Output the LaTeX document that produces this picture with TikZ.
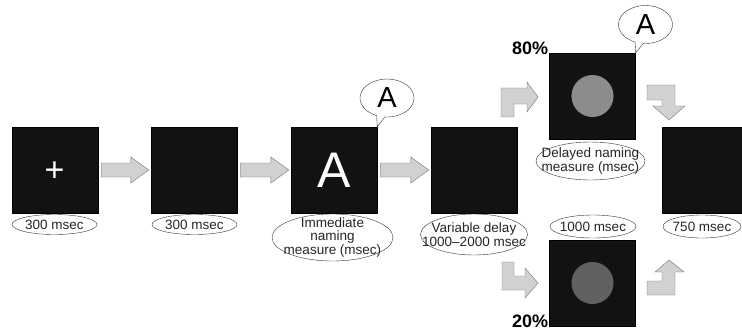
\documentclass[tikz,border=0pt]{standalone}
\usepackage{fontspec}
\setmainfont{Liberation Sans}
\usetikzlibrary{calc}
\usetikzlibrary{shapes.geometric}
\usetikzlibrary{shapes.callouts}
\tikzset{
	screenstyle/.style={rectangle,draw=black,fill=black!93,minimum size=86,inner sep=0},
	labelstyle/.style={ellipse,draw=black!80,fill=white,inner sep=-20pt,align=center,text=black!85,font=\fontsize{13.5}{14}\selectfont},
	arrowstyle/.style={draw=black!55,fill=black!18,line join=miter},
	bubblestyle/.style={ellipse callout,draw=black!80,fill=white,minimum width=54,minimum height=38,inner sep=0,callout pointer arc=18,font=\fontsize{29}{29}\selectfont},
	dotstyle/.style={circle,minimum size=42,inner sep=0},
	percentstyle/.style={font=\fontsize{18}{18}\selectfont\bfseries,inner sep=1pt}
}
\newcommand{\rightblock}[2]{%
	\draw[arrowstyle] let \p1=($(#1.east)+(3pt,0)$), \p2=($(#2.west)+(-2pt,0)$) in
		(\x1,\y1+7pt) -- (\x2-18pt,\y1+7pt) -- (\x2-18pt,\y1+13pt) -- (\x2,\y1)
		-- (\x2-18pt,\y1-13pt) -- (\x2-18pt,\y1-7pt) -- (\x1,\y1-7pt) -- cycle;}

\begin{document}
\begin{tikzpicture}[x=1pt,y=-1pt]
	\useasboundingbox (0,0) rectangle (742,333);
	% screens
	\node[screenstyle] (s1) at (55,170) {};
	\node[text=white,font=\fontsize{34}{34}\selectfont,inner sep=0] (fix) at (54.5,172) {+};
	\node[screenstyle] (s2) at (194,170) {};
	\node[screenstyle,text=white,font=\fontsize{50}{50}\selectfont] (s3) at (334,170) {A};
	\node[screenstyle] (s4) at (474,170) {};
	\node[screenstyle] (s5) at (592.5,96) {};
	\node[screenstyle] (s6) at (592.5,283) {};
	\node[screenstyle,minimum width=80] (s7) at (702,170) {};
	\node[dotstyle,fill=black!45] (d5) at (s5) {};
	\node[dotstyle,fill=black!62] (d6) at (s6) {};
	% durations
	\node[labelstyle,minimum width=85,minimum height=20] (l1) at (54.5,224.5) {300 msec};
	\node[labelstyle,minimum width=85,minimum height=20] (l2) at (194.5,224.5) {300 msec};
	\node[labelstyle,minimum width=121,minimum height=47] (l3) at (332.5,237.5) {Immediate\\naming\\measure (msec)};
	\node[labelstyle,minimum width=107,minimum height=41] (l4) at (474,234.5) {Variable delay\\1000--2000 msec};
	\node[labelstyle,minimum width=109,minimum height=38] (l5) at (590.5,161) {Delayed naming\\measure (msec)};
	\node[labelstyle,minimum width=86,minimum height=23] (l6) at (593,226.5) {1000 msec};
	\node[labelstyle,minimum width=78,minimum height=23] (l7) at (702,226.5) {750 msec};
	% answers
	\node[bubblestyle,callout absolute pointer={(s3.north east)}] (b3) at (387,98) {A};
	\node[bubblestyle,callout absolute pointer={(s5.north east)}] (b5) at (645.5,24.5) {A};
	\node[percentstyle,anchor=base east,yshift=-2] (p80) at (s5.north west) {80\%};
	\node[percentstyle,anchor=base east,yshift=-1] (p20) at (s6.south west) {20\%};
	% arrows
	\rightblock{s1}{s2}
	\rightblock{s2}{s3}
	\rightblock{s3}{s4}
	\draw[arrowstyle] (501,117) -- (501,88) -- (527,88) -- (527,82) -- (538,97) -- (527,112) -- (527,104) -- (514,104) -- (514,117) -- cycle;
	\draw[arrowstyle] (502,262) -- (514,262) -- (514,276) -- (525,276) -- (525,268) -- (538,283) -- (525,298) -- (525,290) -- (502,290) -- cycle;
	\draw[arrowstyle] (647,85) -- (675,85) -- (675,106) -- (685,106) -- (669,120) -- (653,106) -- (662,106) -- (662,100) -- (647,100) -- cycle;
	\draw[arrowstyle] (647,295) -- (675,295) -- (675,272) -- (684,272) -- (669,260) -- (655,272) -- (662,272) -- (662,281) -- (647,281) -- cycle;
\end{tikzpicture}
\end{document}
